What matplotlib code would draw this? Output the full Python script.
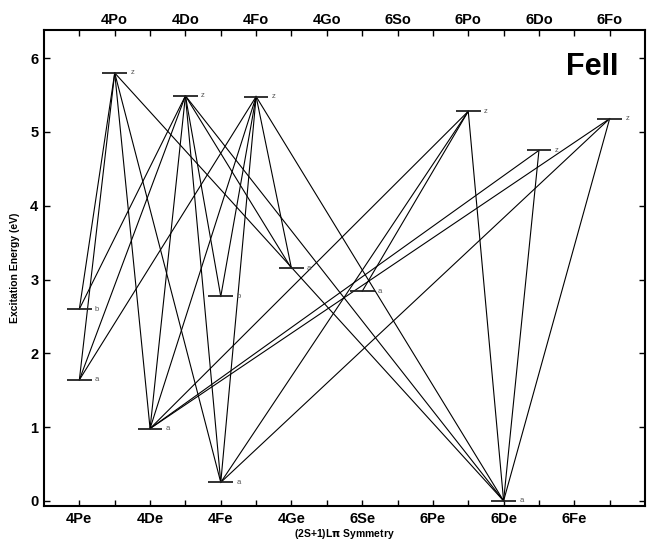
"""Grotrian-style diagram for FeII: levels by (2S+1)L parity and E1 transitions."""

import matplotlib
matplotlib.use("Agg")
import matplotlib.pyplot as plt

plt.rcParams["font.family"] = ["Liberation Sans", "DejaVu Sans"]
plt.rcParams["font.weight"] = "bold"

# Symmetry columns, alternating even / odd parity.
SYMMETRIES = ["4Pe", "4Po", "4De", "4Do", "4Fe", "4Fo", "4Ge", "4Go",
              "6Se", "6So", "6Pe", "6Po", "6De", "6Do", "6Fe", "6Fo"]

# Levels: (symmetry, letter, energy in eV)
LEVEL_SYM = ["4Pe", "4Pe", "4Po", "4De", "4Do", "4Fe", "4Fe", "4Fo",
             "4Ge", "6Se", "6Po", "6De", "6Do", "6Fo"]
LEVEL_TAG = ["a", "b", "z", "a", "z", "a", "b", "z",
             "a", "a", "z", "a", "z", "z"]
LEVEL_E = [1.64, 2.60, 5.80, 0.98, 5.49, 0.25, 2.77, 5.48,
           3.15, 2.84, 5.28, 0.00, 4.75, 5.18]

# Transitions: lower level -> upper level (by "sym tag")
TRANS_LO = ["4Pe a", "4Pe a", "4Pe a",
            "4Pe b", "4Pe b",
            "4De a", "4De a", "4De a", "4De a", "4De a", "4De a",
            "4Fe a", "4Fe a", "4Fe a", "4Fe a", "4Fe a",
            "4Fe b", "4Fe b",
            "4Ge a", "4Ge a",
            "6Se a",
            "6De a", "6De a", "6De a", "6De a", "6De a", "6De a"]
TRANS_UP = ["4Po z", "4Do z", "4Fo z",
            "4Po z", "4Do z",
            "4Po z", "4Do z", "4Fo z", "6Po z", "6Do z", "6Fo z",
            "4Po z", "4Do z", "4Fo z", "6Po z", "6Fo z",
            "4Do z", "4Fo z",
            "4Do z", "4Fo z",
            "6Po z",
            "4Po z", "4Do z", "4Fo z", "6Po z", "6Do z", "6Fo z"]


def main():
    xpos = {s: i + 1 for i, s in enumerate(SYMMETRIES)}
    levels = {}
    for s, t, e in zip(LEVEL_SYM, LEVEL_TAG, LEVEL_E):
        levels[f"{s} {t}"] = (xpos[s], e)

    fig = plt.figure(figsize=(6.51, 5.42), dpi=100)
    ax = fig.add_axes([0.0676, 0.0664, 0.9232, 0.878])

    for lo, up in zip(TRANS_LO, TRANS_UP):
        x0, y0 = levels[lo]
        x1, y1 = levels[up]
        ax.plot([x0, x1], [y0, y1], color="black", lw=0.8, zorder=2)

    hw = 0.35
    for key, (x, e) in levels.items():
        tag = key.split()[1]
        ax.plot([x - hw, x + hw], [e, e], color="#222222", lw=1.3,
                solid_capstyle="butt", zorder=3)
        ax.text(x + 0.5, e, tag, fontsize=5.5, color="#555555",
                ha="center", va="center", fontweight="normal")

    ax.set_xlim(0, 17)
    ax.set_ylim(-0.07, 6.38)

    ax.set_xticks(range(1, 17))
    ax.set_xticklabels([s if i % 2 == 0 else "" for i, s in enumerate(SYMMETRIES)],
                       fontsize=10.5, fontweight="bold")
    ax.set_yticks(range(0, 7))
    ax.set_yticklabels([str(v) for v in range(0, 7)], fontsize=10.5,
                       fontweight="bold")
    ax.tick_params(direction="in", length=4, width=1, top=True, right=True,
                   pad=4)

    # Odd-parity labels on the top axis
    top = ax.secondary_xaxis("top")
    top.set_xticks(range(1, 17))
    top.set_xticklabels([s if i % 2 == 1 else "" for i, s in enumerate(SYMMETRIES)],
                        fontsize=10.5, fontweight="bold")
    top.tick_params(direction="in", length=0, pad=2)
    top.spines["top"].set_visible(False)

    for s in ax.spines.values():
        s.set_linewidth(1.5)

    ax.set_xlabel(r"(2S+1)L$\mathbf{\pi}$ Symmetry", fontsize=7.5,
                  fontweight="bold", labelpad=1)
    ax.set_ylabel("Excitation Energy (eV)", fontsize=7.5, fontweight="bold",
                  labelpad=7)
    ax.text(0.955, 0.955, "FeII", transform=ax.transAxes, fontsize=22,
            fontweight="bold", ha="right", va="top")

    fig.savefig("out.png", dpi=100)
    plt.close(fig)


if __name__ == "__main__":
    main()
